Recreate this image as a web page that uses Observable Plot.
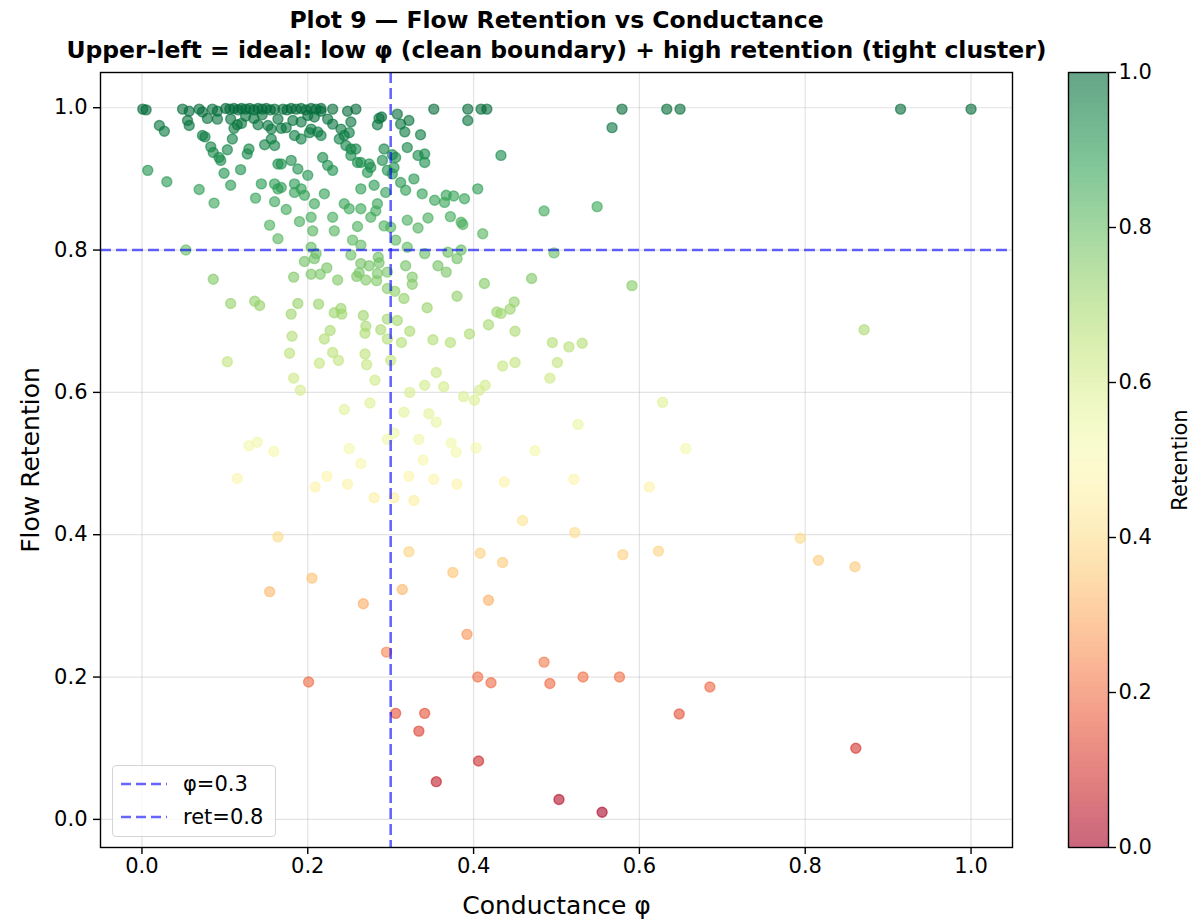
<!DOCTYPE html>
<html><head><meta charset="utf-8">
<script src="https://cdn.jsdelivr.net/npm/d3@7"></script>
<script src="https://cdn.jsdelivr.net/npm/@observablehq/plot@0.6"></script>
<style>
body{margin:0;background:#fff;font-family:"DejaVu Sans",sans-serif;}
#wrap{position:relative;width:1195px;height:922px;overflow:hidden;background:#fff;}
#main{position:absolute;left:0;top:0;}
#cbar{position:absolute;left:1050px;top:0;}
#legend{position:absolute;left:112px;top:765px;width:162px;height:70px;border:1px solid #d5d5d5;border-radius:4px;background:rgba(255,255,255,0.8);font-family:"DejaVu Sans",sans-serif;font-size:21px;color:#000;}
#legend .row{position:absolute;left:0;height:30px;display:flex;align-items:center;}
#legend svg{margin-left:8px;margin-right:16px;}
</style></head><body><div id="wrap"><div id="main"></div><div id="cbar"></div><div id="legend"></div></div>
<script>
const titleLines = ["Plot 9 — Flow Retention vs Conductance", "Upper-left = ideal: low φ (clean boundary) + high retention (tight cluster)"];
const xLabel = "Conductance φ";
const yLabel = "Flow Retention";
const cbLabel = "Retention";
const xTicks = [0, 0.2, 0.4, 0.6, 0.8, 1.0];
const yTicks = [0, 0.2, 0.4, 0.6, 0.8, 1.0];
const cbTicks = [0, 0.2, 0.4, 0.6, 0.8, 1.0];
const phiThreshold = 0.3;
const retThreshold = 0.8;
const legendLabels = ["φ=0.3", "ret=0.8"];

// conductance φ (x) and flow retention (y)
const conductance = [
 0.001,0.005,0.049,0.057,0.069,0.073,0.085,0.091,0.101,0.106,0.111,0.116,0.120,0.125,0.130,0.135,0.140,0.145,0.150,0.155,0.160,0.170,0.175,0.180,0.186,0.192,0.198,0.204,0.210,0.216,0.230,0.248,0.258,0.308,0.352,0.393,0.409,0.416,0.579,0.633,0.649,0.915,1.000,
 0.021,0.027,0.055,0.057,0.079,0.091,0.107,0.115,0.111,0.073,0.076,0.109,0.156,0.156,0.164,0.152,0.168,0.174,0.182,0.192,0.200,0.208,0.216,0.204,0.212,0.224,0.230,0.184,0.192,0.202,0.216,0.240,0.244,0.250,0.252,0.238,0.286,0.289,0.284,0.312,0.322,0.317,0.336,0.393,0.567,0.125,0.135,0.145,0.120,0.140,
 0.083,0.086,0.093,0.095,0.103,0.129,0.127,0.148,0.160,0.246,0.252,0.258,0.252,0.264,0.274,0.292,0.302,0.320,0.333,0.341,0.341,0.168,0.180,0.188,0.218,0.224,0.230,0.260,0.272,0.276,0.290,0.296,0.306,0.304,0.302,0.007,0.099,0.119,0.164,0.433,0.200,
 0.030,0.069,0.107,0.144,0.160,0.164,0.137,0.160,0.087,0.184,0.168,0.192,0.184,0.196,0.220,0.264,0.280,0.294,0.312,0.318,0.328,0.338,0.353,0.367,0.365,0.376,0.389,0.405,0.485,0.549,0.174,0.208,0.244,0.250,0.264,0.284,0.282,
 0.154,0.164,0.190,0.204,0.206,0.230,0.232,0.260,0.276,0.292,0.300,0.320,0.333,0.345,0.372,0.385,0.387,0.411,0.254,0.264,0.306,0.320,0.204,0.053,0.341,0.369,0.385,0.497,
 0.210,0.208,0.196,0.252,0.264,0.274,0.285,0.286,0.086,0.183,0.204,0.215,0.223,0.236,0.259,0.262,0.270,0.283,0.284,0.296,0.296,0.305,0.316,0.318,0.326,0.326,0.357,0.367,0.380,0.413,0.380,0.344,0.428,0.444,0.449,0.433,0.470,0.591,0.107,0.136,0.142,0.188,0.180,0.213,0.232,0.240,0.241,0.267,0.296,0.308,
 0.181,0.178,0.103,0.183,0.191,0.323,0.227,0.220,0.270,0.269,0.288,0.296,0.313,0.351,0.372,0.395,0.418,0.450,0.871,0.230,0.237,0.214,0.269,0.271,0.300,0.281,0.355,0.341,0.364,0.435,0.450,0.414,0.407,0.401,0.388,0.323,0.495,0.515,0.531,0.501,0.492,
 0.628,0.526,0.474,0.656,0.244,0.275,0.316,0.346,0.355,0.304,0.296,0.334,0.373,0.379,0.403,0.250,0.264,0.339,0.223,0.129,0.139,0.159,0.115,0.209,0.248,0.322,0.352,0.380,0.437,0.521,0.612,0.280,0.304,0.328,
 0.459,0.522,0.580,0.623,0.794,0.816,0.860,0.164,0.322,0.408,0.435,0.375,0.205,0.154,0.314,0.267,0.418,0.392,0.295,0.485,0.201,0.405,0.421,0.492,0.532,0.576,0.685,0.306,0.341,0.334,0.648,0.861,0.406,0.355,0.503,0.555
];
const retention = [
 0.998,0.997,0.998,0.995,0.998,0.994,0.998,0.995,0.999,0.998,0.999,0.997,0.999,0.998,0.999,0.997,0.999,0.998,0.999,0.997,0.998,0.998,0.997,0.999,0.998,0.999,0.997,0.999,0.998,0.999,0.998,0.995,0.998,0.991,0.998,0.998,0.998,0.998,0.998,0.998,0.998,0.998,0.998,
 0.975,0.967,0.982,0.975,0.985,0.984,0.984,0.976,0.971,0.961,0.959,0.956,0.970,0.956,0.984,0.975,0.971,0.972,0.982,0.980,0.989,0.987,0.995,0.970,0.966,0.984,0.977,0.961,0.956,0.965,0.961,0.970,0.961,0.965,0.980,0.956,0.985,0.987,0.976,0.977,0.982,0.966,0.962,0.982,0.972,0.988,0.985,0.990,0.978,0.976,
 0.945,0.937,0.930,0.926,0.941,0.942,0.935,0.948,0.947,0.947,0.942,0.942,0.933,0.923,0.921,0.942,0.934,0.944,0.933,0.935,0.923,0.921,0.926,0.914,0.930,0.919,0.912,0.923,0.909,0.916,0.926,0.912,0.930,0.916,0.907,0.912,0.908,0.913,0.921,0.933,0.905,
 0.896,0.885,0.891,0.893,0.893,0.886,0.873,0.868,0.866,0.893,0.888,0.886,0.881,0.877,0.879,0.886,0.891,0.881,0.895,0.884,0.900,0.879,0.870,0.877,0.867,0.876,0.872,0.886,0.855,0.861,0.857,0.865,0.865,0.858,0.858,0.865,0.855,
 0.835,0.816,0.840,0.846,0.827,0.846,0.827,0.833,0.846,0.834,0.832,0.842,0.831,0.845,0.847,0.839,0.836,0.823,0.814,0.807,0.814,0.804,0.804,0.800,0.795,0.797,0.800,0.796,
 0.795,0.788,0.784,0.793,0.781,0.778,0.790,0.782,0.759,0.762,0.766,0.766,0.775,0.758,0.763,0.768,0.758,0.757,0.767,0.769,0.746,0.742,0.732,0.778,0.762,0.752,0.778,0.769,0.788,0.753,0.735,0.719,0.713,0.717,0.727,0.711,0.760,0.750,0.725,0.728,0.722,0.725,0.710,0.724,0.712,0.718,0.710,0.708,0.703,0.701,
 0.679,0.655,0.643,0.620,0.603,0.686,0.687,0.675,0.693,0.683,0.688,0.675,0.670,0.674,0.670,0.682,0.695,0.686,0.688,0.656,0.645,0.641,0.654,0.639,0.645,0.617,0.628,0.610,0.608,0.637,0.642,0.610,0.603,0.589,0.594,0.600,0.670,0.664,0.669,0.642,0.620,
 0.586,0.555,0.518,0.521,0.576,0.585,0.572,0.570,0.558,0.543,0.534,0.534,0.529,0.516,0.522,0.521,0.500,0.505,0.482,0.525,0.530,0.517,0.479,0.467,0.471,0.482,0.478,0.471,0.474,0.478,0.467,0.452,0.452,0.448,
 0.420,0.403,0.372,0.377,0.395,0.364,0.355,0.397,0.376,0.374,0.361,0.347,0.339,0.320,0.323,0.303,0.308,0.260,0.235,0.221,0.193,0.200,0.192,0.191,0.200,0.200,0.186,0.149,0.149,0.124,0.148,0.100,0.082,0.053,0.028,0.010
];

const points = conductance.map((c, i) => ({phi: c, ret: retention[i]}));
const font = "DejaVu Sans, sans-serif";

const main = Plot.plot({
  width: 1050, height: 922,
  marginLeft: 100, marginRight: 38, marginTop: 72, marginBottom: 75,
  style: {fontFamily: font, fontSize: "21px", color: "#000", background: "transparent", overflow: "visible"},
  x: {domain: [-0.05, 1.05], label: null},
  y: {domain: [-0.0395, 1.0495], label: null},
  color: {type: "linear", scheme: "RdYlGn", domain: [0, 1]},
  marks: [
    Plot.gridX(xTicks, {stroke: "#b0b0b0", strokeOpacity: 0.35, strokeWidth: 1.2}),
    Plot.gridY(yTicks, {stroke: "#b0b0b0", strokeOpacity: 0.35, strokeWidth: 1.2}),
    Plot.dot(points, {x: "phi", y: "ret", r: 5, fill: "ret", stroke: "ret", fillOpacity: 0.6, strokeOpacity: 0.6, strokeWidth: 1.4}),
    Plot.ruleX([phiThreshold], {stroke: "blue", strokeOpacity: 0.6, strokeWidth: 2.6, strokeDasharray: "11,5"}),
    Plot.ruleY([retThreshold], {stroke: "blue", strokeOpacity: 0.6, strokeWidth: 2.6, strokeDasharray: "11,5"}),
    Plot.frame({stroke: "#000", strokeWidth: 1.4}),
    Plot.axisX({ticks: xTicks, tickFormat: ".1f", tickSize: 7, tickPadding: 4, fontSize: 21, strokeWidth: 1.4}),
    Plot.axisY({ticks: yTicks, tickFormat: ".1f", tickSize: 7, tickPadding: 6, fontSize: 21, strokeWidth: 1.4}),
    Plot.text([xLabel], {frameAnchor: "bottom", dy: 58, lineAnchor: "middle", textAnchor: "middle", fontSize: 25, fill: "#000"}),
    Plot.text([yLabel], {frameAnchor: "left", dx: -70, lineAnchor: "middle", textAnchor: "middle", rotate: -90, fontSize: 25, fill: "#000"}),
    Plot.text([titleLines[0]], {frameAnchor: "top", dy: -52, lineAnchor: "middle", textAnchor: "middle", fontSize: 23.5, fontWeight: "bold", fill: "#000"}),
    Plot.text([titleLines[1]], {frameAnchor: "top", dy: -22, lineAnchor: "middle", textAnchor: "middle", fontSize: 23.5, fontWeight: "bold", fill: "#000"})
  ]
});
document.getElementById("main").appendChild(main);

// colorbar
const nSlices = 155;
const slices = d3.range(nSlices).map(i => ({a: i / nSlices, b: (i + 1) / nSlices, m: (i + 0.5) / nSlices}));
const cbar = Plot.plot({
  width: 145, height: 922,
  marginLeft: 18, marginRight: 87, marginTop: 72, marginBottom: 75,
  style: {fontFamily: font, fontSize: "21px", color: "#000", background: "transparent", overflow: "visible"},
  y: {domain: [0, 1], label: null},
  color: {type: "linear", scheme: "RdYlGn", domain: [0, 1]},
  marks: [
    Plot.rect(slices, {y1: "a", y2: "b", fill: "m", fillOpacity: 0.6, shapeRendering: "crispEdges"}),
    Plot.frame({stroke: "#000", strokeWidth: 1.4}),
    Plot.axisY({anchor: "right", ticks: cbTicks, tickFormat: ".1f", tickSize: 7, tickPadding: 3, fontSize: 21, strokeWidth: 1.4}),
    Plot.text([cbLabel], {frameAnchor: "right", dx: 72, lineAnchor: "middle", textAnchor: "middle", rotate: -90, fontSize: 21, fill: "#000"})
  ]
});
document.getElementById("cbar").appendChild(cbar);

// legend
const leg = document.getElementById("legend");
legendLabels.forEach((lab, i) => {
  const row = document.createElement("div");
  row.className = "row";
  row.style.top = (3 + i * 33) + "px";
  row.innerHTML = `<svg width="46" height="10"><line x1="0" y1="5" x2="46" y2="5" stroke="blue" stroke-opacity="0.6" stroke-width="2.6" stroke-dasharray="10,5"/></svg><span>${lab}</span>`;
  leg.appendChild(row);
});
</script></body></html>
